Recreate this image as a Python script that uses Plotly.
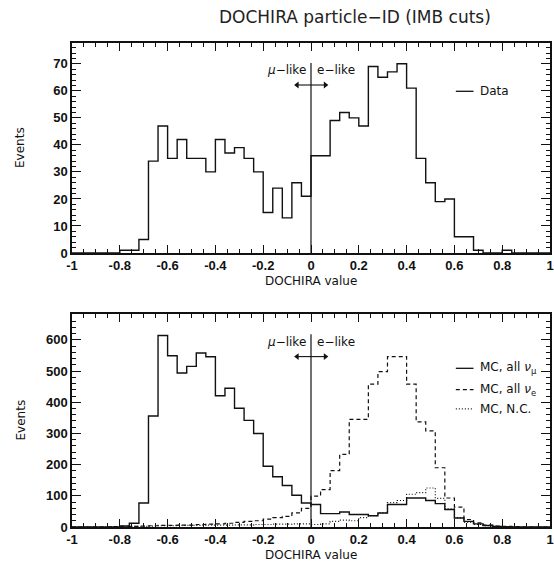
import numpy as np
import plotly.graph_objects as go
from plotly.subplots import make_subplots

# 50 bins of width 0.04 spanning the DOCHIRA range [-1, 1]
bin_edges = np.linspace(-1.0, 1.0, 51)

data_counts = [0, 0, 0, 0, 0, 1, 1, 5, 34, 47,
               35, 42, 35, 35, 30, 42, 37, 39, 35, 30,
               15, 24, 13, 26, 21, 36, 36, 49, 52, 50,
               47, 69, 65, 67, 70, 61, 35, 26, 19, 20,
               6, 6, 1, 0, 0, 1, 0, 0, 0, 0]

mc_numu = [0, 0, 0, 0, 0, 3, 12, 77, 356, 614,
           549, 494, 515, 558, 546, 421, 445, 381, 342, 300,
           195, 161, 133, 102, 77, 72, 43, 43, 48, 40,
           40, 36, 45, 72, 72, 93, 93, 85, 75, 56,
           29, 18, 10, 5, 2, 1, 0, 0, 0, 0]

mc_nue = [0, 0, 0, 0, 1, 2, 2, 3, 4, 5,
          5, 6, 6, 8, 9, 10, 12, 15, 18, 20,
          25, 30, 34, 45, 60, 99, 120, 181, 233, 345,
          345, 458, 498, 546, 546, 458, 337, 308, 190, 93,
          64, 24, 13, 6, 3, 2, 1, 0, 0, 0]

mc_nc = [0, 0, 0, 0, 1, 1, 2, 2, 3, 4,
         4, 5, 5, 5, 6, 6, 6, 7, 7, 8,
         8, 9, 9, 10, 10, 8, 10, 18, 22, 20,
         30, 36, 45, 78, 85, 105, 110, 125, 92, 58,
         30, 15, 8, 4, 2, 1, 0, 0, 0, 0]

x_ticks = [-1, -0.8, -0.6, -0.4, -0.2, 0, 0.2, 0.4, 0.6, 0.8, 1]
x_ticktext = ["-1", "-0.8", "-0.6", "-0.4", "-0.2", "0", "0.2", "0.4", "0.6", "0.8", "1"]
top_yticks = [0, 10, 20, 30, 40, 50, 60, 70]
bot_yticks = [0, 100, 200, 300, 400, 500, 600]

top_range = [0, 77.7]
bot_range = [0, 683]

W, H = 554, 564
M_L, M_R, M_T, M_B = 72, 0, 43, 37
plot_h = H - M_T - M_B
top_dom = [1 - 210 / plot_h, 1.0]
bot_dom = [0.0, 213 / plot_h]

BLACK = "#111111"
THIN = "DejaVu Sans"
BOLD = "Liberation Sans"


def step_xy(counts):
    # outline of a histogram: each count held across its bin
    return list(bin_edges), list(counts) + [counts[-1]]


def bold(labels):
    return ["<b>%s</b>" % s for s in labels]


fig = make_subplots(rows=2, cols=1)

sx, sy = step_xy(data_counts)
fig.add_trace(go.Scatter(x=sx, y=sy, mode="lines", line=dict(shape="hv", color=BLACK, width=1.4),
                         showlegend=False), row=1, col=1)

for counts, dash, w in [(mc_nc, "1px,2px", 1.2), (mc_nue, "4px,3px", 1.2), (mc_numu, "solid", 1.4)]:
    sx, sy = step_xy(counts)
    fig.add_trace(go.Scatter(x=sx, y=sy, mode="lines",
                             line=dict(shape="hv", color=BLACK, width=w, dash=dash),
                             showlegend=False), row=2, col=1)

# double-headed arrows under the mu-like / e-like labels
for row, rng in [(1, top_range), (2, bot_range)]:
    ya = 0.8 * rng[1]
    fig.add_trace(go.Scatter(x=[-0.064, 0.066], y=[ya, ya], mode="lines",
                             line=dict(color=BLACK, width=1.1), showlegend=False,
                             hoverinfo="skip"), row=row, col=1)
    fig.add_trace(go.Scatter(x=[-0.058, 0.060], y=[ya, ya], mode="markers",
                             marker=dict(symbol=["triangle-left", "triangle-right"], size=6,
                                         color=BLACK, line=dict(width=0)),
                             showlegend=False, hoverinfo="skip"), row=row, col=1)

axis_common = dict(showline=True, linecolor=BLACK, linewidth=1.5, mirror="ticks",
                   ticks="inside", tickcolor=BLACK, showgrid=False, zeroline=False,
                   ticklabeloverflow="allow",
                   tickfont=dict(family=BOLD, size=13, color=BLACK))

for r in (1, 2):
    fig.update_xaxes(range=[-1, 1], tickvals=x_ticks, ticktext=bold(x_ticktext), ticklen=8,
                     tickwidth=1.2, minor=dict(dtick=0.05, tick0=-1, ticks="inside", ticklen=4,
                                               tickcolor=BLACK, tickwidth=1),
                     **axis_common, row=r, col=1)

fig.update_yaxes(range=top_range, tickvals=top_yticks, ticktext=bold([str(v) for v in top_yticks]),
                 ticklen=9, tickwidth=1.2,
                 minor=dict(dtick=2, ticks="inside", ticklen=4, tickcolor=BLACK, tickwidth=1),
                 domain=top_dom, **axis_common, row=1, col=1)
fig.update_yaxes(range=bot_range, tickvals=bot_yticks, ticktext=bold([str(v) for v in bot_yticks]),
                 ticklen=9, tickwidth=1.2,
                 minor=dict(dtick=20, ticks="inside", ticklen=4, tickcolor=BLACK, tickwidth=1),
                 domain=bot_dom, **axis_common, row=2, col=1)

annotations = []
shapes = []
txt_font = dict(family=THIN, size=12, color=BLACK)

for xa, ya in [("x", "y"), ("x2", "y2")]:
    # cut at zero
    shapes.append(dict(type="line", xref=xa, yref=ya + " domain", x0=0, x1=0, y0=0, y1=0.905,
                       line=dict(color=BLACK, width=1.2)))
    annotations.append(dict(xref=xa, yref=ya + " domain", x=-0.012, y=0.87, text="<i>μ</i>−like",
                            showarrow=False, xanchor="right", yanchor="middle", font=txt_font))
    annotations.append(dict(xref=xa, yref=ya + " domain", x=0.016, y=0.87, text="e−like",
                            showarrow=False, xanchor="left", yanchor="middle", font=txt_font))
    annotations.append(dict(xref=xa, yref=ya + " domain", x=0, y=0, yshift=-28, text="DOCHIRA value",
                            showarrow=False, xanchor="center", yanchor="middle", font=txt_font))
    annotations.append(dict(xref="paper", yref=ya + " domain", x=0, y=0.5, xshift=-52, text="Events",
                            textangle=-90, showarrow=False, xanchor="center", yanchor="middle",
                            font=txt_font))

# legend samples
legend_rows = [("x", "y", 0.77, "solid", "Data"),
               ("x2", "y2", 0.745, "solid", "MC, all <i>ν</i><sub>μ</sub>"),
               ("x2", "y2", 0.645, "4px,3px", "MC, all <i>ν</i><sub>e</sub>"),
               ("x2", "y2", 0.555, "1px,2px", "MC, N.C.")]
for xa, ya, yy, dash, label in legend_rows:
    shapes.append(dict(type="line", xref=xa + " domain", yref=ya + " domain", x0=0.803, x1=0.84,
                       y0=yy, y1=yy, line=dict(color=BLACK, width=1.3, dash=dash)))
    annotations.append(dict(xref=xa + " domain", yref=ya + " domain", x=0.85, y=yy, text=label,
                            showarrow=False, xanchor="left", yanchor="middle", font=txt_font))

annotations.append(dict(xref="paper", yref="paper", x=(357 - M_L) / (W - M_L - M_R), y=1,
                        yshift=26, text="DOCHIRA particle−ID (IMB cuts)", showarrow=False,
                        xanchor="center", yanchor="middle",
                        font=dict(family=THIN, size=17, color="#222222")))

fig.update_layout(width=W, height=H, margin=dict(l=M_L, r=M_R, t=M_T, b=M_B),
                  paper_bgcolor="white", plot_bgcolor="white", showlegend=False,
                  annotations=annotations, shapes=shapes)

fig.write_html("out.html")
